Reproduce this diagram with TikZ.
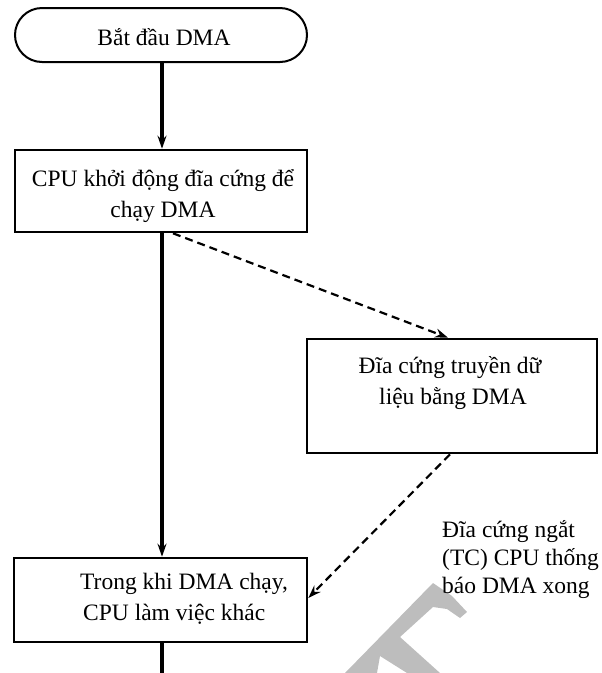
\documentclass[tikz,border=0pt]{standalone}
\usepackage{fontspec}
\setmainfont{Liberation Serif}
\usetikzlibrary{arrows.meta}
\begin{document}
\begin{tikzpicture}[x=1pt,y=-1pt,
  font=\fontsize{23.5}{31}\selectfont,
  terminal/.style={draw, line width=2pt, rounded corners=27pt,
    minimum width=292pt, minimum height=54pt, inner sep=0pt},
  stepbox/.style={draw, line width=2.6pt, inner sep=0pt},
  txt/.style={inner sep=0pt},
  flow/.style={line width=3.6pt, -{Stealth[length=13pt,width=9pt]}},
  signal/.style={line width=2.2pt, dash pattern=on 8pt off 5pt,
    -{Stealth[length=13pt,width=9pt]}},
]
\useasboundingbox (0,0) rectangle (602,673);

% light grey background mark
\fill[black!26] (433,583) -- (452,596) -- (467,612) -- (460,618) -- (447,609)
  -- (433,607) -- (400,637) -- (440,673) -- (407,673) -- (380,656)
  -- (377,673) -- (345,673) -- cycle;

% boxes
\node[terminal] (start) at (161,35) {};
\node[txt] (starttext) at (164,37) {Bắt đầu DMA};

\node[stepbox, minimum width=292pt, minimum height=82pt] (cpu) at (161,191) {};
\node[txt, align=center] (cputext) at (163,196) {CPU khởi động đĩa cứng để\\chạy DMA};

\node[stepbox, minimum width=290pt, minimum height=114pt] (disk) at (452,396) {};
\node[txt, align=center] (disktext) at (450,383) {Đĩa cứng truyền dữ\\\hspace*{6pt}liệu bằng DMA};

\node[stepbox, minimum width=293pt, minimum height=84pt] (work) at (160.5,600) {};
\node[txt, align=left, anchor=west] (worktext) at (80,599)
  {Trong khi DMA chạy,\\\hspace*{3pt}CPU làm việc khác};

\node[txt, align=left, anchor=west, font=\fontsize{23.5}{28}\selectfont] (note) at (442,560)
  {Đĩa cứng ngắt\\(TC) CPU thống\\báo DMA xong};

\coordinate (bottom) at (162,673);

% connectors
\draw[flow] ([xshift=1pt]start.south) -- ([xshift=1pt]cpu.north);
\draw[flow] ([xshift=1pt]cpu.south) -- ([xshift=1.5pt]work.north);
\draw[line width=3.6pt] ([xshift=1.5pt]work.south) -- (bottom);
\draw[signal] ([xshift=12pt]cpu.south) -- ([xshift=-4pt]disk.north);
\draw[signal] ([xshift=-2pt]disk.south) -- ([yshift=2pt]work.east);
\end{tikzpicture}
\end{document}
